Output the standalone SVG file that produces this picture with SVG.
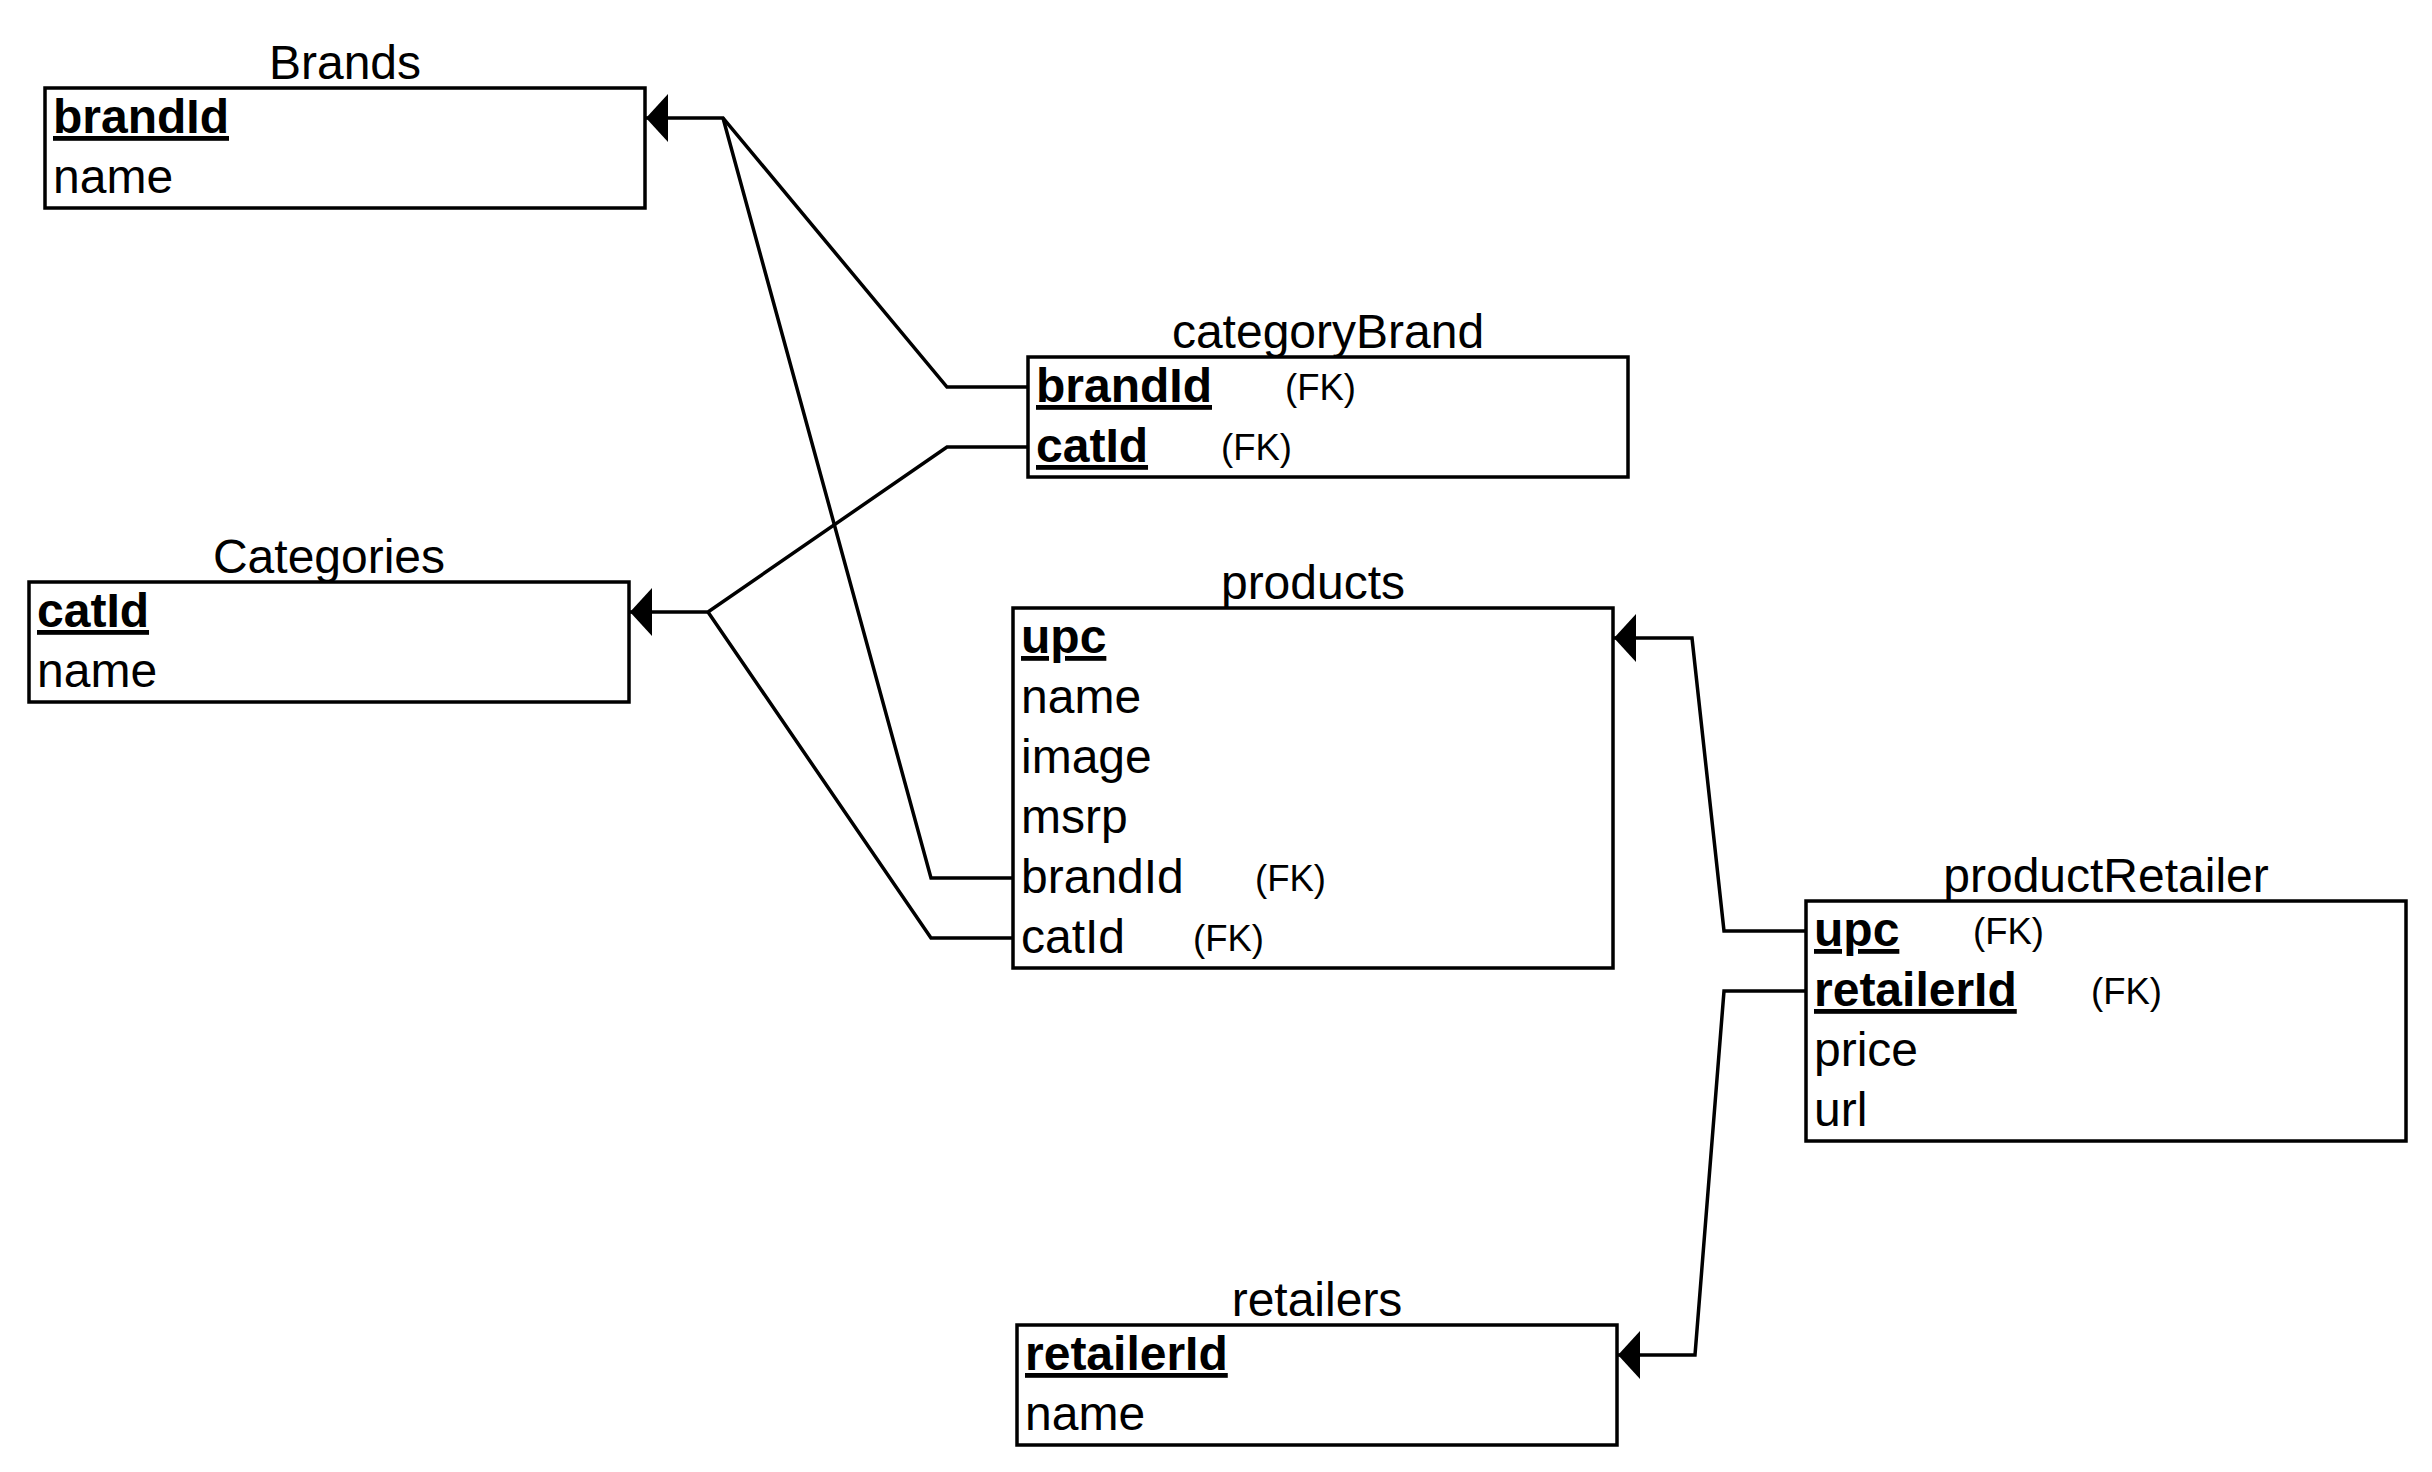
<svg xmlns="http://www.w3.org/2000/svg" width="2432" height="1472" viewBox="0 0 2432 1472">
<style>
.box{fill:#fff;stroke:#000;stroke-width:3.5}
.title{font-family:"Liberation Sans",Arial,sans-serif;font-size:48px;fill:#000;text-anchor:middle}
.f{font-family:"Liberation Sans",Arial,sans-serif;font-size:48px;fill:#000}
.pk{font-weight:bold;text-decoration:underline}
.fk{font-family:"Liberation Sans",Arial,sans-serif;font-size:36.5px;fill:#000}
.c{fill:none;stroke:#000;stroke-width:3.5;marker-end:url(#arr)}
.c2{fill:none;stroke:#000;stroke-width:3.5}
</style>
<defs>
<marker id="arr" viewBox="0 0 22 48" refX="22" refY="24" markerWidth="22" markerHeight="48" markerUnits="userSpaceOnUse" orient="auto">
<path d="M0,0 L22,24 L0,48 z" fill="#000"/>
</marker>
</defs>
<rect width="2432" height="1472" fill="#fff"/>

<g id="connectors">
<path class="c" d="M1028,387 L947,387 L723,118 L646,118"/>
<path class="c2" d="M1013,878 L931,878 L723,118"/>
<path class="c" d="M1028,447 L947,447 L708,612 L630,612"/>
<path class="c2" d="M1013,938 L931,938 L708,612"/>
<path class="c" d="M1806,931 L1724,931 L1692,638 L1614,638"/>
<path class="c" d="M1806,991 L1724,991 L1695,1355 L1618,1355"/>
</g>

<g id="Brands">
<text class="title" x="345" y="79">Brands</text>
<rect class="box" x="45" y="88" width="600" height="120"/>
<text class="f pk" x="53" y="133">brandId</text>
<text class="f" x="53" y="193">name</text>
</g>

<g id="Categories">
<text class="title" x="329" y="573">Categories</text>
<rect class="box" x="29" y="582" width="600" height="120"/>
<text class="f pk" x="37" y="627">catId</text>
<text class="f" x="37" y="687">name</text>
</g>

<g id="categoryBrand">
<text class="title" x="1328" y="348">categoryBrand</text>
<rect class="box" x="1028" y="357" width="600" height="120"/>
<text class="f pk" x="1036" y="402">brandId</text>
<text class="fk" x="1285" y="400">(FK)</text>
<text class="f pk" x="1036" y="462">catId</text>
<text class="fk" x="1221" y="460">(FK)</text>
</g>

<g id="products">
<text class="title" x="1313" y="599">products</text>
<rect class="box" x="1013" y="608" width="600" height="360"/>
<text class="f pk" x="1021" y="653">upc</text>
<text class="f" x="1021" y="713">name</text>
<text class="f" x="1021" y="773">image</text>
<text class="f" x="1021" y="833">msrp</text>
<text class="f" x="1021" y="893">brandId</text>
<text class="fk" x="1255" y="891">(FK)</text>
<text class="f" x="1021" y="953">catId</text>
<text class="fk" x="1193" y="951">(FK)</text>
</g>

<g id="productRetailer">
<text class="title" x="2106" y="892">productRetailer</text>
<rect class="box" x="1806" y="901" width="600" height="240"/>
<text class="f pk" x="1814" y="946">upc</text>
<text class="fk" x="1973" y="944">(FK)</text>
<text class="f pk" x="1814" y="1006">retailerId</text>
<text class="fk" x="2091" y="1004">(FK)</text>
<text class="f" x="1814" y="1066">price</text>
<text class="f" x="1814" y="1126">url</text>
</g>

<g id="retailers">
<text class="title" x="1317" y="1316">retailers</text>
<rect class="box" x="1017" y="1325" width="600" height="120"/>
<text class="f pk" x="1025" y="1370">retailerId</text>
<text class="f" x="1025" y="1430">name</text>
</g>
</svg>
